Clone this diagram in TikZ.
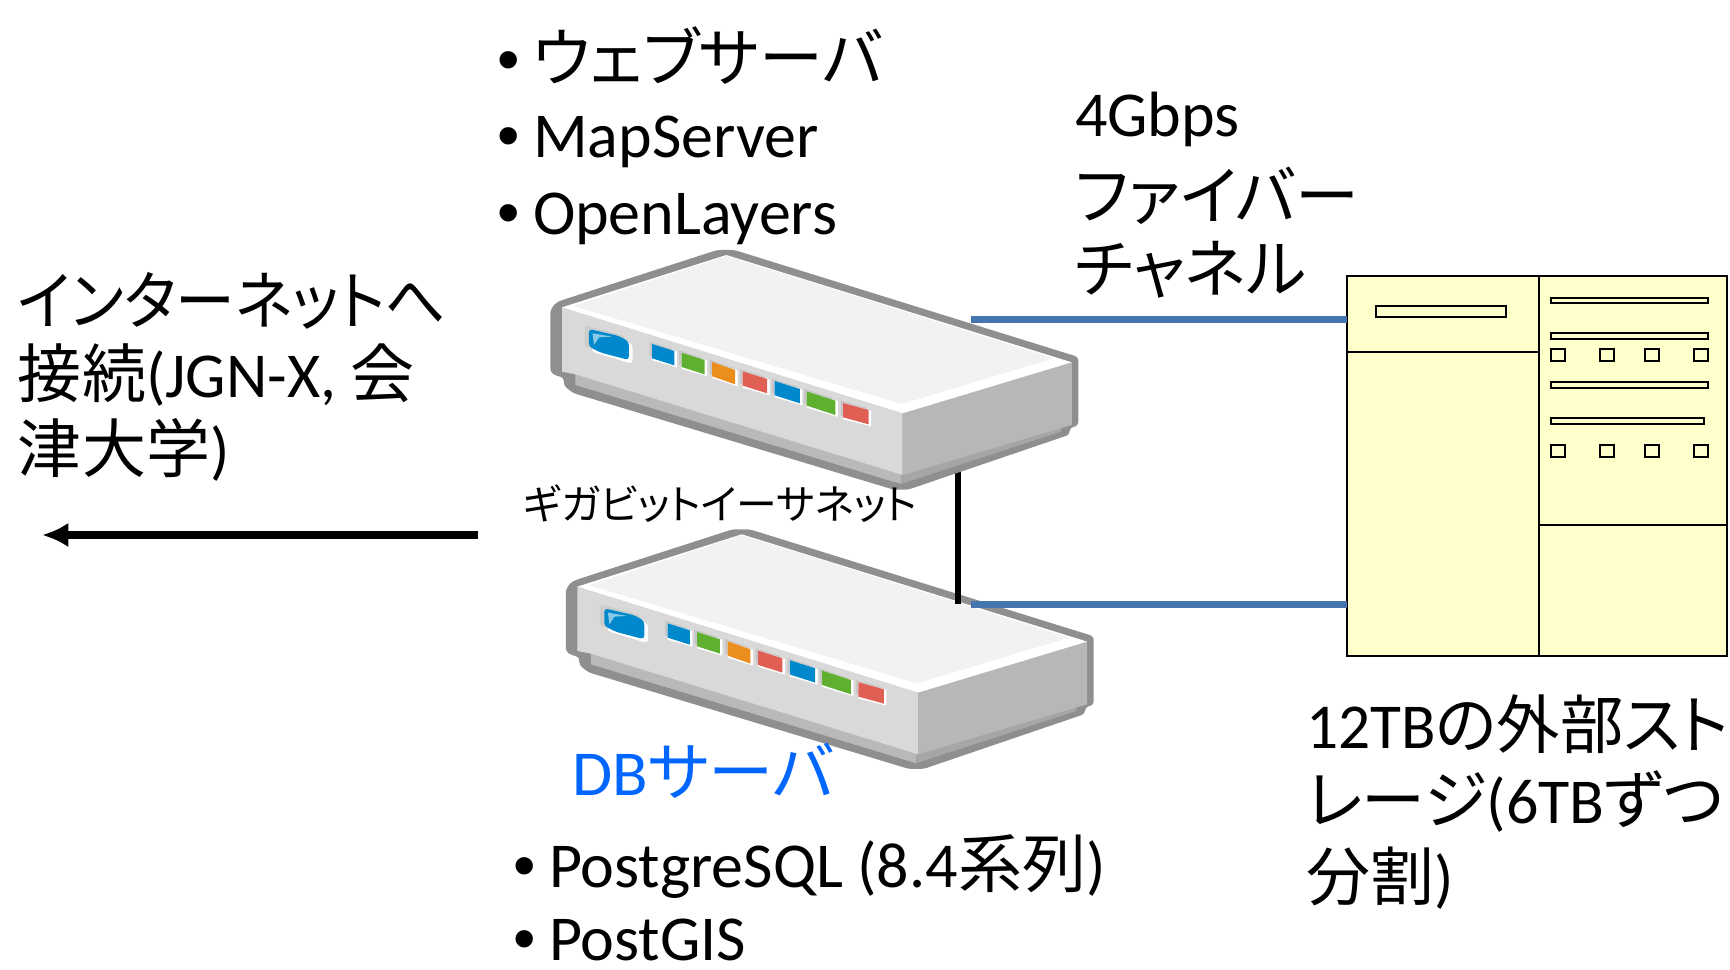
\documentclass[tikz,border=0pt]{standalone}
\usepackage{fontspec}
\usepackage{graphicx}
\usetikzlibrary{arrows.meta}
\setmainfont{Carlito}
\newfontfamily\cjk[RawFeature={+palt}]{Noto Sans CJK JP}
\newfontfamily\bulfont{Liberation Sans}
\definecolor{swedge}{HTML}{8F8F8F}
\definecolor{swtop}{HTML}{F2F2F2}
\definecolor{swfront}{HTML}{D9D9D9}
\definecolor{swright}{HTML}{B7B7B6}
\definecolor{swbase}{HTML}{B9B9B8}
\definecolor{swbaseb}{HTML}{A6A6A6}
\definecolor{ledblue}{HTML}{0088CC}
\definecolor{ledgreen}{HTML}{5FB030}
\definecolor{ledorange}{HTML}{EC8E1C}
\definecolor{ledred}{HTML}{E05F55}
\definecolor{linkblue}{HTML}{4674AE}
\definecolor{dbblue}{HTML}{0066FF}
\definecolor{storefill}{HTML}{FFFFCC}
\tikzset{
  lbl/.style={anchor=base west,inner sep=0pt,outer sep=0pt,font=\fontsize{18.2}{18}\selectfont,text=black},
  smalllbl/.style={lbl,font=\fontsize{11.6}{12}\selectfont},
  storebox/.style={draw=black,line width=0.65pt,fill=storefill},
  slotbox/.style={draw=black,line width=0.55pt,fill=storefill},
  fiber/.style={draw=linkblue,line width=1.9pt},
  gige/.style={draw=black,line width=1.7pt},
}
\newcommand{\swled}[5]{%
  \fill[gray!45] ({#1-7},{#2-7}) -- ({#3-7},{#4-7}) -- ({#3-7},{#4+36}) -- ({#1-7},{#2+36}) -- cycle;
  \fill[white] ({#1},{#2}) -- ({#3+7},{#4+2}) -- ({#3+7},{#4+49}) -- ({#1},{#2+49}) -- cycle;
  \fill[#5] (#1,#2) -- (#3,#4) -- (#3,{#4+43}) -- (#1,{#2+43}) -- cycle;
}
\newcommand{\swdevice}{%
  \fill[swedge,rounded corners=1pt] (56,240) -- (72,217) -- (95,208) -- (515,60) -- (562,60) -- (1508,381) -- (1508,587) -- (1484,594) -- (1484,614) -- (1040,779) -- (1000,779) -- (118,489) -- (93,467) -- (93,442) -- (75,439) -- (56,427) -- cycle;
  \fill[swbase] (125,430) -- (125,465) -- (1020,762) -- (1020,730) -- cycle;
  \fill[swbaseb] (1020,762) -- (1460,605) -- (1460,585) -- (1020,735) -- cycle;
  \fill[swfront] (88,232) -- (1025,550) -- (1025,735) -- (125,433) -- (88,425) -- cycle;
  \fill[swright] (1025,550) -- (1490,397) -- (1490,585) -- (1025,735) -- cycle;
  \fill[white] (88,232) -- (540,75) -- (1490,397) -- (1025,550) -- cycle;
  \fill[swtop] (120,228) -- (540,78) -- (1440,385) -- (1022,522) -- cycle;
  \fill[gray!40,rounded corners=1pt] (150,285) -- (262,318) -- (262,380) -- (150,350) -- cycle;
  \fill[white,rounded corners=1pt] (170,305) -- (282,342) -- (282,402) -- (170,365) -- cycle;
  \fill[ledblue,rounded corners=1pt] (162,297) -- (245,318) -- (272,335) -- (272,390) -- (195,368) -- (162,350) -- cycle;
  \fill[ledblue!45!white] (172,310) -- (225,320) -- (190,322) -- (176,345) -- cycle;
  \swled{336}{342}{397}{363}{ledblue}
  \swled{417}{368}{480}{390}{ledgreen}
  \swled{501}{396}{564}{420}{ledorange}
  \swled{585}{424}{652}{447}{ledred}
  \swled{673}{453}{742}{477}{ledblue}
  \swled{761}{484}{840}{512}{ledgreen}
  \swled{861}{519}{931}{540}{ledred}
}
\newcommand{\bul}{\makebox[0.36cm][l]{\bulfont •}}
\begin{document}
\begin{tikzpicture}[x=0.01cm,y=-0.01cm]
\useasboundingbox (0,0) rectangle (1730,970);
\fill[white] (0,0) rectangle (1730,970);
% storage
\draw[storebox] (1346.7,275.7) rectangle (1726.7,656);
\draw[storebox,fill=none] (1538.7,275.7) -- (1538.7,656);
\draw[storebox,fill=none] (1346.7,352.3) -- (1538.7,352.3);
\draw[storebox,fill=none] (1538.7,525) -- (1726.7,525);
\draw[slotbox] (1375.7,305.7) rectangle (1506.3,317.3);
\draw[slotbox] (1551,297.7) rectangle (1707.7,303.3);
\draw[slotbox] (1551,333.3) rectangle (1707.7,339.3);
\draw[slotbox] (1551,382.3) rectangle (1707.7,388.3);
\draw[slotbox] (1551,418) rectangle (1704.3,424);
\foreach \yy in {349.3,445}{
  \foreach \xx in {1551,1599.7,1645,1694}{
    \draw[slotbox] (\xx,\yy) rectangle ++(14,11.7);
  }
}
\coordinate (storeA) at (1346.7,319.3);
\coordinate (storeB) at (1346.7,604.3);
% second switch
\begin{scope}[shift={(545.4,509.3)},xscale=0.3636,yscale=0.3333]
\swdevice
\end{scope}
% black link runs over the lower switch
\coordinate (upperPort) at (957.5,468);
\coordinate (lowerPort) at (957.5,604);
\draw[gige] (upperPort) -- (lowerPort);
% first switch
\begin{scope}[shift={(530,230)},xscale=0.3636,yscale=0.3333]
\swdevice
\end{scope}
\coordinate (fiberA) at (971,319.3);
\coordinate (fiberB) at (971,604.3);
\draw[fiber] (fiberA) -- (storeA);
\draw[fiber] (fiberB) -- (storeB);
% internet arrow
\coordinate (netStart) at (478,535);
\coordinate (netEnd) at (42,535);
\draw[draw=black,line width=2pt,-{Latex[length=7.5pt,width=7pt]}] (netStart) -- (netEnd);
% labels
\node[lbl] (web) at (497,81.5) {\bul{\cjk ウェブサーバ}};
\node[lbl] (map) at (497,158) {\bul MapServer};
\node[lbl] (ol) at (497,235) {\bul OpenLayers};
\node[lbl] (gbps) at (1075,137) {4Gbps};
\node[lbl] (fib) at (1075,219) {\cjk ファイバー};
\node[lbl] (chn) at (1075,293) {\cjk チャネル};
\node[lbl] (int1) at (18,324) {\scalebox{0.935}[1]{\cjk インターネットへ}};
\node[lbl] (int2) at (18,397) {{\cjk 接続}(JGN-X, {\cjk 会}};
\node[lbl] (int3) at (18,472) {{\cjk 津大学})};
\node[smalllbl] (giga) at (523,519) {\cjk ギガビットイーサネット};
\node[lbl,text=dbblue] (db) at (572,795) {\scalebox{1.02}[1]{DB{\cjk サーバ}}};
\node[lbl] (pg) at (513,887) {\bul PostgreSQL (8.4{\cjk 系列})};
\node[lbl] (gis) at (513,960) {\bul PostGIS};
\node[lbl] (st1) at (1306,748) {\scalebox{0.99}[1]{12TB{\cjk の外部スト}}};
\node[lbl] (st2) at (1306,823) {{\cjk レージ}(6TB{\cjk ずつ}};
\node[lbl] (st3) at (1306,900) {{\cjk 分割})};
\end{tikzpicture}
\end{document}
